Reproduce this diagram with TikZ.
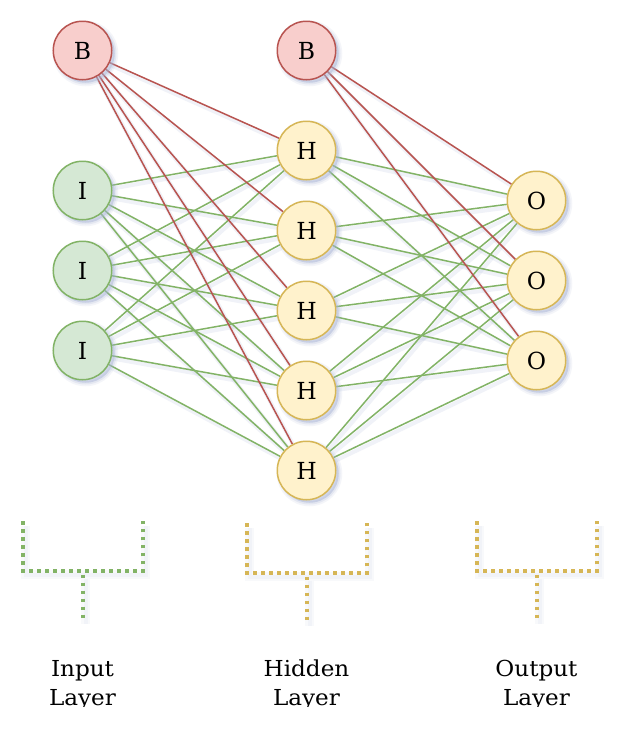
\documentclass[tikz,border=0pt]{standalone}
\usepackage{fontspec}
\setmainfont{DejaVu Serif}
\newfontfamily\lblfont{DejaVu Serif}[FakeStretch=1.05]
\definecolor{redS}{HTML}{B85450}
\definecolor{redF}{HTML}{F8CECC}
\definecolor{grnS}{HTML}{82B366}
\definecolor{grnF}{HTML}{D5E8D4}
\definecolor{ylwS}{HTML}{D6B656}
\definecolor{ylwF}{HTML}{FFF2CC}
\definecolor{shcol}{RGB}{165,178,212}
\pgfdeclarelayer{bg}
\pgfdeclarelayer{esh}
\pgfdeclarelayer{edges}
\pgfsetlayers{bg,esh,edges,main}
\tikzset{
  nshadow/.style={
    preaction={draw=shcol, line width=7pt, draw opacity=0.12, fill=shcol, fill opacity=0.45,
      transform canvas={shift={(3pt,-3pt)}}},
    preaction={draw=shcol, line width=3.5pt, draw opacity=0.2,
      transform canvas={shift={(3pt,-3pt)}}}},
  neuron/.style={circle, minimum size=58.5pt, inner sep=0pt, line width=1.5pt,
    font=\fontsize{23.5}{28}\selectfont, nshadow},
  bnode/.style={neuron, draw=redS, fill=redF},
  inode/.style={neuron, draw=grnS, fill=grnF},
  hnode/.style={neuron, draw=ylwS, fill=ylwF},
  onode/.style={neuron, draw=ylwS, fill=ylwF},
  redge/.style={draw=redS, line width=1.5pt},
  gedge/.style={draw=grnS, line width=1.5pt},
  eshadow/.style={draw=shcol, line width=4pt, draw opacity=0.16,
    transform canvas={shift={(2pt,-3pt)}}},
  brk/.style={line width=3.8pt, dash pattern=on 3.8pt off 4.2pt},
  brkshadow/.style={draw=shcol, line width=9pt, draw opacity=0.07,
    transform canvas={shift={(3pt,-4pt)}},
    preaction={draw=shcol, line width=4pt, draw opacity=0.08,
    transform canvas={shift={(3pt,-4pt)}}}},
  lbl/.style={align=center, anchor=base, inner sep=0pt,
    font=\lblfont\fontsize{22}{29}\selectfont}
}
\begin{document}
\begin{tikzpicture}[x=1pt,y=-1pt]
\useasboundingbox (0,0) rectangle (640,750);
\begin{pgfonlayer}{bg}
\fill[white] (0,0) rectangle (640,750);
\end{pgfonlayer}

% nodes
\node[bnode] (b1) at (82.5,50.5) {B};
\node[bnode] (b2) at (306.5,50.5) {B};
\node[inode] (i1) at (82.5,190.5) {I};
\node[inode] (i2) at (82.5,270.5) {I};
\node[inode] (i3) at (82.5,350.5) {I};
\node[hnode] (h1) at (306.5,150.5) {H};
\node[hnode] (h2) at (306.5,230.5) {H};
\node[hnode] (h3) at (306.5,310.5) {H};
\node[hnode] (h4) at (306.5,390.5) {H};
\node[hnode] (h5) at (306.5,470.5) {H};
\node[onode] (o1) at (536.5,200.5) {O};
\node[onode] (o2) at (536.5,280.5) {O};
\node[onode] (o3) at (536.5,360.5) {O};

% edges
\foreach \a in {i1,i2,i3} {
  \foreach \b in {h1,h2,h3,h4,h5} {
    \begin{pgfonlayer}{esh}\draw[eshadow] (\a) -- (\b);\end{pgfonlayer}
    \begin{pgfonlayer}{edges}\draw[gedge] (\a) -- (\b);\end{pgfonlayer}
  }
}
\foreach \a in {h1,h2,h3,h4,h5} {
  \foreach \b in {o1,o2,o3} {
    \begin{pgfonlayer}{esh}\draw[eshadow] (\a) -- (\b);\end{pgfonlayer}
    \begin{pgfonlayer}{edges}\draw[gedge] (\a) -- (\b);\end{pgfonlayer}
  }
}
\foreach \b in {h1,h2,h3,h4,h5} {
  \begin{pgfonlayer}{esh}\draw[eshadow] (b1) -- (\b);\end{pgfonlayer}
  \begin{pgfonlayer}{edges}\draw[redge] (b1) -- (\b);\end{pgfonlayer}
}
\foreach \b in {o1,o2,o3} {
  \begin{pgfonlayer}{esh}\draw[eshadow] (b2) -- (\b);\end{pgfonlayer}
  \begin{pgfonlayer}{edges}\draw[redge] (b2) -- (\b);\end{pgfonlayer}
}

% brackets
\begin{pgfonlayer}{esh}
\draw[brkshadow] (22.7,522) -- (22.7,570.7) -- (142.7,570.7) -- (142.7,522);
\draw[brkshadow] (82.7,574.7) -- (82.7,620);
\draw[brkshadow] (246.7,524) -- (246.7,572.7) -- (366.7,572.7) -- (366.7,524);
\draw[brkshadow] (306.7,576.7) -- (306.7,622);
\draw[brkshadow] (476.7,522) -- (476.7,570.7) -- (596.7,570.7) -- (596.7,522);
\draw[brkshadow] (536.7,574.7) -- (536.7,620);
\end{pgfonlayer}
\draw[brk, grnS] (22.7,521) -- (22.7,570.7) -- (142.7,570.7) -- (142.7,521);
\draw[brk, grnS] (82.7,574.5) -- (82.7,621);
\draw[brk, ylwS] (246.7,523) -- (246.7,572.7) -- (366.7,572.7) -- (366.7,523);
\draw[brk, ylwS] (306.7,576.5) -- (306.7,623);
\draw[brk, ylwS] (476.7,521) -- (476.7,570.7) -- (596.7,570.7) -- (596.7,521);
\draw[brk, ylwS] (536.7,574.5) -- (536.7,621);

% labels
\begin{scope}
\clip (0,630) rectangle (640,706.5);
\node[lbl] (lin) at (82.5,705) {Input\\Layer};
\node[lbl] (lhid) at (306.5,705) {Hidden\\Layer};
\node[lbl] (lout) at (536.5,705) {Output\\Layer};
\end{scope}
\end{tikzpicture}
\end{document}
